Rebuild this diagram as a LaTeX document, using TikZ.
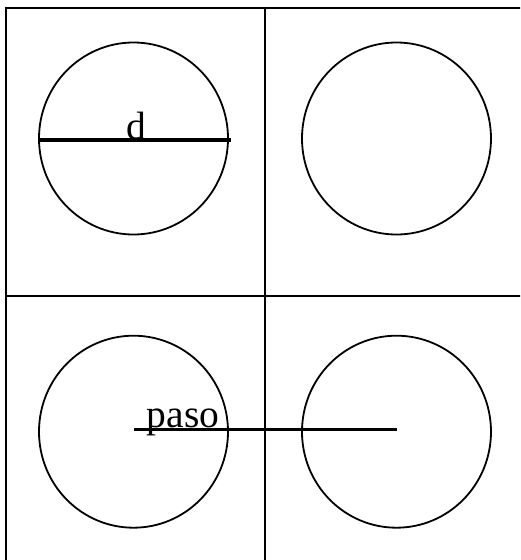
\documentclass[tikz,border=0pt]{standalone}
\usepackage{fontspec}
\setmainfont{Liberation Serif}
\usetikzlibrary{shapes.geometric}

\tikzset{
  cell/.style={line width=2.2pt},
  disc/.style={draw, ellipse, line width=1.8pt, minimum width=189pt, minimum height=192pt, inner sep=0pt},
  bar/.style={line width=3.2pt},
  tag/.style={font=\fontsize{39.5}{40}\selectfont, inner sep=0pt, anchor=base}
}

\begin{document}
\begin{tikzpicture}[x=1pt, y=-1pt]
  \useasboundingbox (0,0) rectangle (520,560);
  \clip (0,0) rectangle (520,560);
  % grid of four cells
  \draw[cell] (6,8) rectangle (523.4,583.4);
  \draw[cell] (264.7,8) -- (264.7,583.4);
  \draw[cell] (6,295.7) -- (523.4,295.7);
  % circles
  \node[disc] (c1) at (133.5,138.5) {};
  \node[disc] (c2) at (396.5,138.5) {};
  \node[disc] (c3) at (133.5,431.7) {};
  \node[disc] (c4) at (396.5,431.7) {};
  % diameter
  \draw[bar] ([yshift=-1.5pt]c1.west) -- ([xshift=2pt, yshift=-1.5pt]c1.east);
  \node[tag] (d) at (136,139) {d};
  % pitch
  \draw[bar] ([yshift=2.4pt]c3.center) -- ([yshift=2.4pt]c4.center);
  \node[tag] (paso) at (183,427) {paso};
\end{tikzpicture}
\end{document}
